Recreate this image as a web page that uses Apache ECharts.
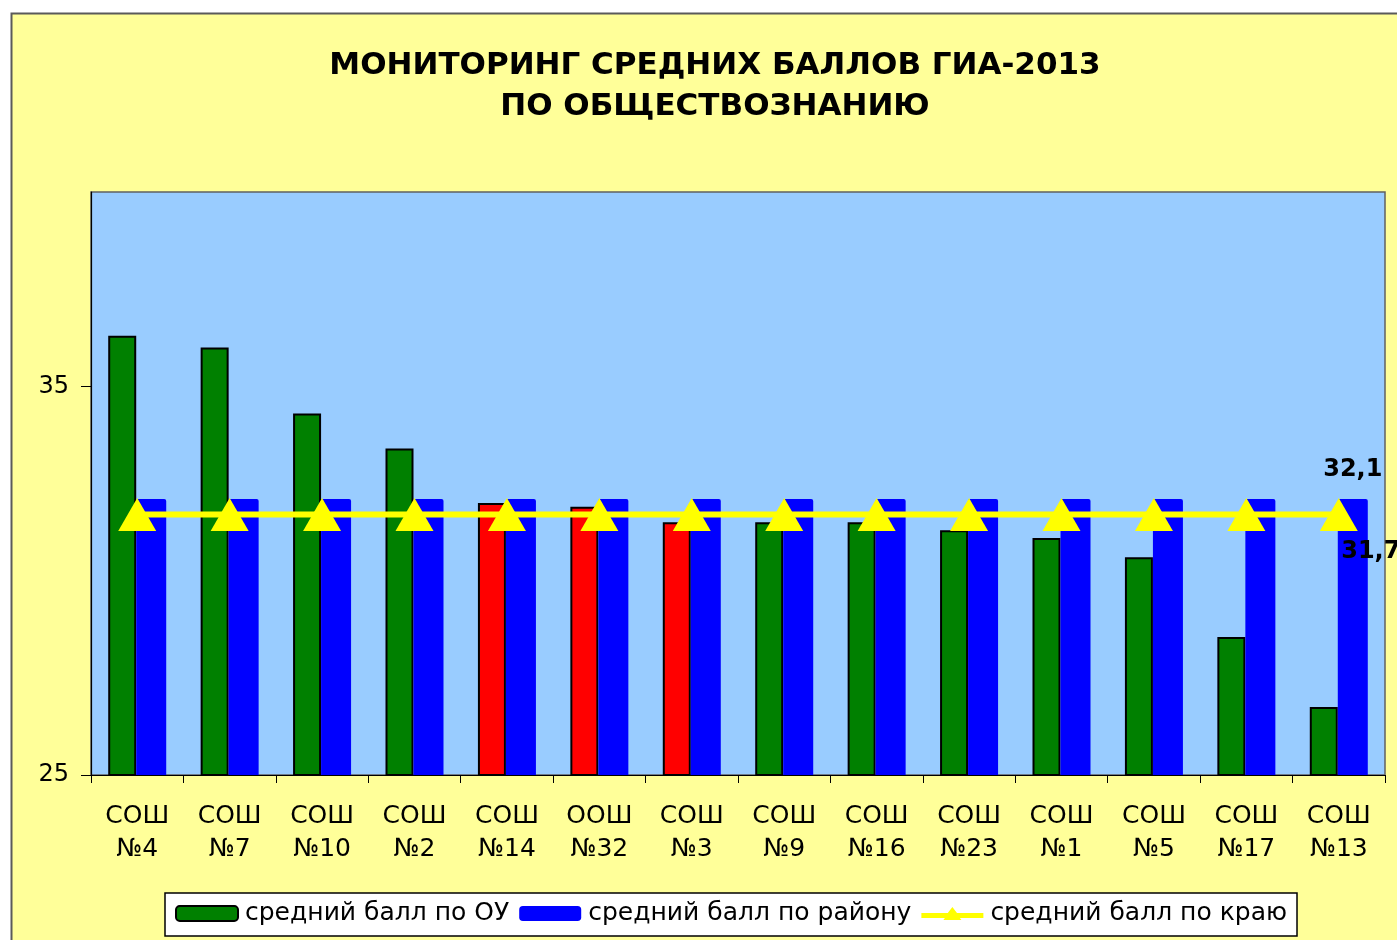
<!DOCTYPE html>
<html lang="ru">
  <head>
    <meta charset="UTF-8" />
    <title>Мониторинг средних баллов ГИА-2013</title>
    <script src="https://cdn.jsdelivr.net/npm/echarts@6/dist/echarts.min.js"></script>
    <style>
      html, body { margin: 0; padding: 0; background: #fff; }
      #main { width: 1397px; height: 940px; }
    </style>
  </head>
  <body>
    <div id="main"></div>
    <script>
      var schools = ["СОШ\n№4", "СОШ\n№7", "СОШ\n№10", "СОШ\n№2", "СОШ\n№14", "ООШ\n№32", "СОШ\n№3",
        "СОШ\n№9", "СОШ\n№16", "СОШ\n№23", "СОШ\n№1", "СОШ\n№5", "СОШ\n№17", "СОШ\n№13"];
      var schoolAvg = [36.3, 36.0, 34.3, 33.4, 32.0, 31.9, 31.5, 31.5, 31.5, 31.3, 31.1, 30.6, 28.55, 26.75];
      var districtAvg = [32.1, 32.1, 32.1, 32.1, 32.1, 32.1, 32.1, 32.1, 32.1, 32.1, 32.1, 32.1, 32.1, 32.1];
      var regionAvg = [31.7, 31.7, 31.7, 31.7, 31.7, 31.7, 31.7, 31.7, 31.7, 31.7, 31.7, 31.7, 31.7, 31.7];
      // schools below the district average are shown in red
      var belowDistrict = [4, 5, 6];

      var font = "'DejaVu Sans', Arial, sans-serif";
      var myChart = echarts.init(document.getElementById("main"));

      function comma(p) { return String(p.value).replace(".", ","); }

      var greenData = schoolAvg.map(function (v, i) {
        if (belowDistrict.indexOf(i) >= 0) {
          return { value: v, itemStyle: { color: "#ff0000" } };
        }
        return v;
      });
      var last = districtAvg.length - 1;
      var blueData = districtAvg.map(function (v, i) {
        if (i !== last) return v;
        return {
          value: v,
          label: {
            show: true, position: "top", distance: 17, formatter: comma,
            fontSize: 24, fontWeight: "bold", color: "#000", fontFamily: font
          }
        };
      });
      var lineData = regionAvg.map(function (v, i) {
        if (i !== last) return v;
        return {
          value: v,
          label: {
            show: true, position: "bottom", offset: [32, 4], formatter: comma,
            fontSize: 24, fontWeight: "bold", color: "#000", fontFamily: font
          }
        };
      });

      // legend icon: thick line with a triangle in the middle
      var lineIcon = "path://M0,6 L26.4,6 L31,0 L35.6,6 L62,6 L62,11 L38.5,11 L40,13 L22,13 L23.5,11 L0,11 Z";

      var option = {
        animation: false,
        backgroundColor: "#ffffff",
        textStyle: { fontFamily: font },
        graphic: [
          {
            type: "rect", z: -10, silent: true,
            shape: { x: 11.5, y: 13.5, width: 1500, height: 1000 },
            style: { fill: "#ffff99", stroke: "#5a5a5a", lineWidth: 2 }
          }
        ],
        title: {
          text: "МОНИТОРИНГ СРЕДНИХ БАЛЛОВ ГИА-2013\nПО ОБЩЕСТВОЗНАНИЮ",
          left: 710, top: 40, textAlign: "center",
          textStyle: { fontSize: 31, fontWeight: "bold", color: "#000", lineHeight: 41, fontFamily: font }
        },
        legend: {
          left: 165, top: 893,
          padding: [8, 10, 10, 10], itemGap: 10,
          itemWidth: 62, itemHeight: 15,
          backgroundColor: "#ffffff", borderColor: "#000", borderWidth: 1.5, borderRadius: 0,
          textStyle: { fontSize: 25, color: "#000", fontFamily: font, padding: [0, 0, 0, 2] },
          data: [
            { name: "средний балл по ОУ" },
            { name: "средний балл по району" },
            { name: "средний балл по краю", icon: lineIcon }
          ]
        },
        grid: {
          left: 91, right: 12, top: 192, bottom: 165,
          show: true, backgroundColor: "#99ccff", borderColor: "#606060", borderWidth: 1.5
        },
        xAxis: {
          type: "category",
          data: schools,
          axisLine: { lineStyle: { color: "#000", width: 1.2 } },
          axisTick: { show: true, length: 8, inside: false, lineStyle: { color: "#000" } },
          axisLabel: { fontSize: 25, color: "#000", lineHeight: 33, margin: 25, fontFamily: font, interval: 0 }
        },
        yAxis: {
          type: "value",
          min: 25, max: 40, interval: 10,
          axisLine: { show: true, lineStyle: { color: "#000", width: 1.2 } },
          axisTick: { show: true, length: 10, lineStyle: { color: "#000" } },
          splitLine: { show: false },
          axisLabel: { fontSize: 24, color: "#000", margin: 22, showMaxLabel: false, fontFamily: font }
        },
        series: [
          {
            name: "средний балл по ОУ",
            type: "bar",
            data: greenData,
            barWidth: 28,
            barGap: "0%",
            itemStyle: { color: "#008000", borderColor: "#000", borderWidth: 2 }
          },
          {
            name: "средний балл по району",
            type: "bar",
            data: blueData,
            barWidth: 30,
            itemStyle: { color: "#0000ff", borderRadius: [2, 2, 0, 0] }
          },
          {
            name: "средний балл по краю",
            type: "line",
            data: lineData,
            z: 5,
            symbol: "triangle",
            symbolSize: [38, 33],
            lineStyle: { color: "#ffff00", width: 6 },
            itemStyle: { color: "#ffff00", borderWidth: 0 }
          }
        ]
      };

      myChart.setOption(option);
    </script>
  </body>
</html>
